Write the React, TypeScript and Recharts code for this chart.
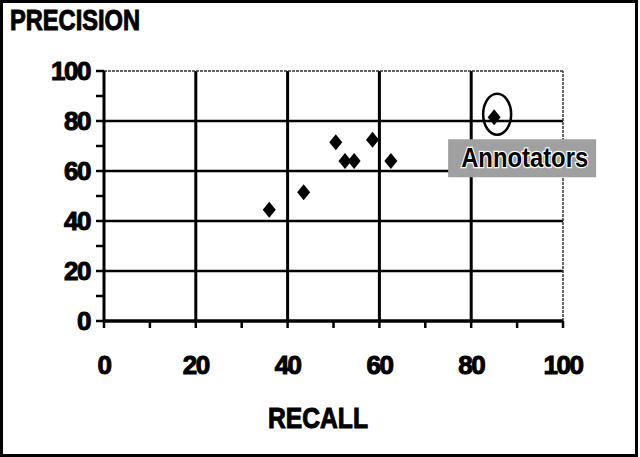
import React from 'react';
import { ScatterChart, Scatter, XAxis, YAxis, ReferenceLine } from 'recharts';

// ---- data ----
const recall = [36, 43.5, 50.5, 52.5, 54.5, 58.5, 62.5];
const precision = [44.5, 51.5, 71.5, 64, 64, 72.5, 64];
const annotatorRecall = [85];
const annotatorPrecision = [81.5];
const annotatorLabel = 'Annotators';
const axisTicks = [0, 10, 20, 30, 40, 50, 60, 70, 80, 90, 100];
const gridTicks = [20, 40, 60, 80];
const edgeTick = 100;
const xTitle = 'RECALL';
const yTitle = 'PRECISION';

const systems = recall.map((x, i) => ({ x, y: precision[i] }));
const annotators = annotatorRecall.map((x, i) => ({ x, y: annotatorPrecision[i] }));

const FONT = '"Liberation Sans", Arial, Helvetica, sans-serif';

const Diamond = (props: any) => {
  const { cx, cy } = props;
  if (cx == null || cy == null) return <g />;
  return (
    <polygon
      points={`${cx},${cy - 8} ${cx + 6.5},${cy} ${cx},${cy + 8} ${cx - 6.5},${cy}`}
      fill="#000"
    />
  );
};

const AnnotatorShape = (props: any) => {
  const { cx, cy } = props;
  if (cx == null || cy == null) return <g />;
  return (
    <g>
      <ellipse cx={cx + 3} cy={cy - 3} rx={14} ry={20.5} fill="none" stroke="#000" strokeWidth={2.5} />
      <polygon
        points={`${cx},${cy - 8} ${cx + 6.5},${cy} ${cx},${cy + 8} ${cx - 6.5},${cy}`}
        fill="#000"
      />
      <rect x={cx - 46} y={cy + 22} width={148} height={38} fill="#a0a0a0" />
      <text
        x={cx - 33}
        y={cy + 50}
        fontFamily={FONT}
        fontWeight="bold"
        fontSize={28}
        textLength={127}
        lengthAdjust="spacingAndGlyphs"
        fill="#000"
        stroke="#fff"
        strokeWidth={2.5}
        paintOrder="stroke"
      >
        {annotatorLabel}
      </text>
    </g>
  );
};

const YTick = (props: any) => {
  const { x, y, payload } = props;
  if (payload.value % 20 !== 0) return <g />;
  return (
    <text x={x} y={y} dy="0.36em" textAnchor="end" fontFamily={FONT} fontWeight="bold" fontSize={26} letterSpacing={-1.5} fill="#000" stroke="#000" strokeWidth={1}>
      {payload.value}
    </text>
  );
};

const XTick = (props: any) => {
  const { x, y, payload } = props;
  if (payload.value % 20 !== 0) return <g />;
  return (
    <text x={x} y={y} dy={44} textAnchor="middle" fontFamily={FONT} fontWeight="bold" fontSize={26} letterSpacing={-1.5} fill="#000" stroke="#000" strokeWidth={1}>
      {payload.value}
    </text>
  );
};

const YTitle = () => (
  <text x={10} y={30} fontFamily={FONT} fontWeight="bold" fontSize={29} textLength={130} lengthAdjust="spacingAndGlyphs" fill="#000" stroke="#000" strokeWidth={1}>
    {yTitle}
  </text>
);

const XTitle = () => (
  <text x={268} y={428} fontFamily={FONT} fontWeight="bold" fontSize={29} textLength={100} lengthAdjust="spacingAndGlyphs" fill="#000" stroke="#000" strokeWidth={1}>
    {xTitle}
  </text>
);

export default function App() {
  return (
    <div style={{ position: 'fixed', left: 0, top: 0, width: 640, height: 457, background: '#fff' }}>
      <ScatterChart width={640} height={457} margin={{ top: 71, right: 77, bottom: 76, left: 0 }}>
        <XAxis
          type="number"
          dataKey="x"
          domain={[0, 100]}
          ticks={axisTicks}
          interval={0}
          height={60}
          tickSize={7}
          tickMargin={2}
          axisLine={{ stroke: '#000', strokeWidth: 3.5 }}
          tickLine={{ stroke: '#000', strokeWidth: 2.5 }}
          tick={<XTick />}
          label={{ content: () => <XTitle /> }}
        />
        <YAxis
          type="number"
          dataKey="y"
          domain={[0, 100]}
          ticks={axisTicks}
          interval={0}
          width={104}
          tickSize={8}
          tickMargin={6}
          axisLine={{ stroke: '#000', strokeWidth: 3 }}
          tickLine={{ stroke: '#000', strokeWidth: 2.5 }}
          tick={<YTick />}
          label={{ content: () => <YTitle /> }}
        />
        {gridTicks.map((v) => (
          <ReferenceLine key={'v' + v} x={v} stroke="#000" strokeWidth={3} />
        ))}
        {gridTicks.map((v) => (
          <ReferenceLine key={'h' + v} y={v} stroke="#000" strokeWidth={2.5} />
        ))}
        <ReferenceLine x={edgeTick} stroke="#333" strokeWidth={1.5} strokeDasharray="3 1" />
        <ReferenceLine y={edgeTick} stroke="#333" strokeWidth={1.5} strokeDasharray="3 1" />
        <Scatter data={systems} shape={<Diamond />} isAnimationActive={false} />
        <Scatter data={annotators} shape={<AnnotatorShape />} isAnimationActive={false} />
      </ScatterChart>
      <div
        style={{
          position: 'absolute',
          left: 0,
          top: 0,
          width: 638,
          height: 457,
          border: '3px solid #000',
          boxSizing: 'border-box',
          pointerEvents: 'none',
        }}
      />
    </div>
  );
}
